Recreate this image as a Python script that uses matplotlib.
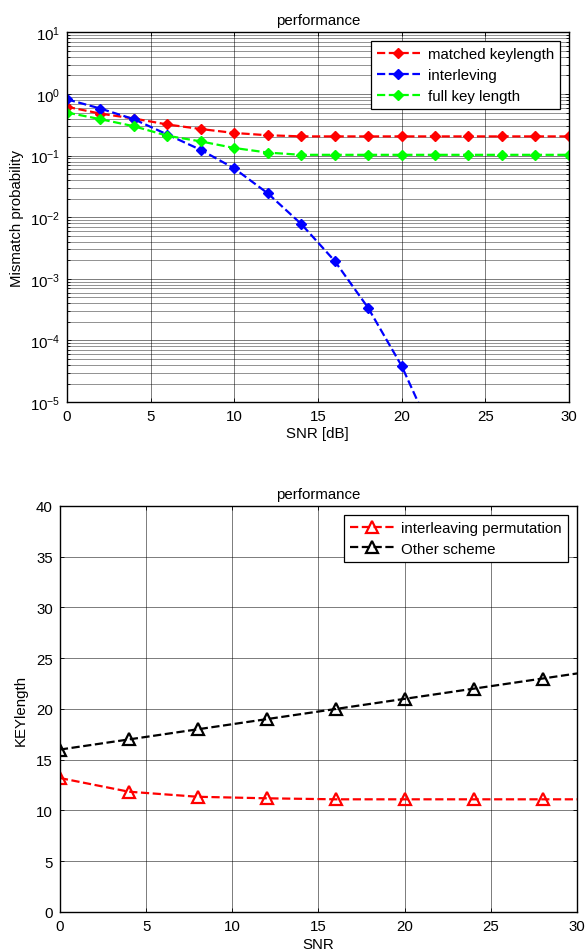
import numpy as np
import matplotlib
matplotlib.use("Agg")
import matplotlib.pyplot as plt
from matplotlib.ticker import LogLocator, NullFormatter

plt.rcParams['font.family'] = ['Liberation Sans', 'DejaVu Sans']
plt.rcParams['font.size'] = 10.8
plt.rcParams['mathtext.default'] = 'regular'

# top panel: mismatch probability vs SNR
snr_top = [0, 2, 4, 6, 8, 10, 12, 14, 16, 18, 20, 22, 24, 26, 28, 30]
matched = [0.62, 0.48, 0.40, 0.32, 0.27, 0.233, 0.214, 0.205, 0.205, 0.205,
           0.205, 0.205, 0.205, 0.205, 0.205, 0.205]
snr_inter = [0, 2, 4, 6, 8, 10, 12, 14, 16, 18, 20, 22]
interleving = [0.82, 0.58, 0.39, 0.22, 0.124, 0.062, 0.0245, 0.0078,
               0.00196, 3.4e-4, 3.9e-5, 2.5e-6]
fullkey = [0.50, 0.39, 0.30, 0.21, 0.17, 0.133, 0.112, 0.103, 0.103, 0.103,
           0.103, 0.103, 0.103, 0.103, 0.103, 0.103]

# bottom panel: key length vs SNR
snr_bot = [0, 4, 8, 12, 16, 20, 24, 28, 32]
interleaving_perm = [13.2, 11.85, 11.35, 11.2, 11.1, 11.1, 11.1, 11.1, 11.1]
other_scheme = [16, 17, 18, 19, 20, 21, 22, 23, 24]

fig = plt.figure(figsize=(5.87, 9.53), dpi=100)

def style(ax):
    ax.tick_params(which='both', direction='in', top=True, right=True,
                   length=3, width=0.6, labelsize=10.8, pad=5)
    ax.tick_params(which='minor', length=2)
    for s in ax.spines.values():
        s.set_linewidth(1.0)

def legend(ax):
    leg = ax.legend(loc='upper right', handlelength=2.9, handletextpad=0.5,
                    fancybox=False, framealpha=1, edgecolor='k',
                    borderaxespad=0.6, labelspacing=0.45, fontsize=10.8)
    leg.get_frame().set_linewidth(0.9)

# ---------- top ----------
ax1 = fig.add_axes([0.114, 0.577, 0.855, 0.388])
ax1.semilogy(snr_top, matched, 'r--', marker='D', ms=5.5, lw=1.6,
             label='matched keylength')
ax1.semilogy(snr_inter, interleving, 'b--', marker='D', ms=5.5, lw=1.6,
             label='interleving')
ax1.semilogy(snr_top, fullkey, '--', color=(0, 1, 0), marker='D', ms=5.5,
             lw=1.6, label='full key length')
ax1.set_xlim(0, 30)
ax1.set_ylim(1e-5, 10)
ax1.set_xticks([0, 5, 10, 15, 20, 25, 30])
ax1.yaxis.set_major_locator(LogLocator(base=10, numticks=10))
ax1.yaxis.set_minor_locator(LogLocator(base=10, subs=np.arange(2, 10), numticks=20))
ax1.yaxis.set_minor_formatter(NullFormatter())
ax1.grid(True, which='major', color='k', lw=0.6, alpha=0.6)
ax1.grid(True, which='minor', axis='y', color='k', lw=0.6, alpha=0.5)
ax1.set_xlabel('SNR [dB]', labelpad=2)
ax1.set_ylabel('Mismatch probability', labelpad=4)
ax1.set_title('performance', fontsize=10.8, pad=6)
style(ax1)
legend(ax1)

# ---------- bottom ----------
ax2 = fig.add_axes([0.102, 0.042, 0.881, 0.426])
ax2.plot(snr_bot, interleaving_perm, 'r--', marker='^', ms=8, mfc='none',
         mew=1.6, lw=1.6, label='interleaving permutation')
ax2.plot(snr_bot, other_scheme, 'k--', marker='^', ms=8, mfc='none',
         mew=1.6, lw=1.6, label='Other scheme')
ax2.set_xlim(0, 30)
ax2.set_ylim(0, 40)
ax2.set_xticks([0, 5, 10, 15, 20, 25, 30])
ax2.set_yticks(np.arange(0, 41, 5))
ax2.grid(True, color='k', lw=0.6, alpha=0.6)
ax2.set_xlabel('SNR', labelpad=3)
ax2.set_ylabel('KEYlength', labelpad=6)
ax2.set_title('performance', fontsize=10.8, pad=6)
style(ax2)
legend(ax2)

fig.savefig('out.png', dpi=100)
